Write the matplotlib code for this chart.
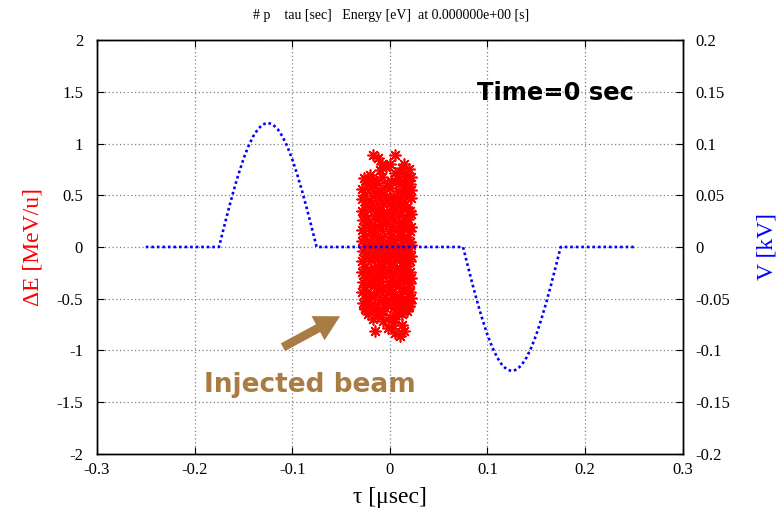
import numpy as np
import matplotlib
matplotlib.use("Agg")
import matplotlib.pyplot as plt

plt.rcParams['font.family'] = ['Liberation Serif', 'DejaVu Serif']

# ---- data ----
tau_v = np.linspace(-0.25, 0.25, 101)
bump = [0.0, 0.0188, 0.0371, 0.0545, 0.0705, 0.0849, 0.0971, 0.1069, 0.1141, 0.1185, 0.12,
        0.1185, 0.1141, 0.1069, 0.0971, 0.0849, 0.0705, 0.0545, 0.0371, 0.0188, 0.0]
volt = ([0.0] * 15 + bump + [0.0] * 29 + [-v for v in bump] + [0.0] * 15)

beam_points = [
    # top tail
    (-0.017, 0.89), (0.005, 0.89), (-0.012, 0.86), (-0.0085, 0.80), (0.000, 0.80), (0.015, 0.80),
    (0.020, 0.75), (0.005, 0.715), (-0.024, 0.635), (-0.017, 0.65), (0.017, 0.65), (0.022, 0.68),
    (-0.010, 0.74), (-0.020, 0.70), (0.010, 0.72), (-0.004, 0.77), (0.012, 0.76),
    # core
    (-0.026, 0.67), (-0.017, 0.65), (-0.008, 0.68), (0.001, 0.64), (0.009, 0.66), (0.018, 0.69),
    (-0.023, 0.61), (-0.013, 0.62), (-0.003, 0.60), (0.006, 0.63), (0.014, 0.59), (0.021, 0.61),
    (-0.028, 0.56), (-0.019, 0.57), (-0.010, 0.55), (0.000, 0.57), (0.008, 0.54), (0.016, 0.56), (0.022, 0.55),
    (-0.025, 0.50), (-0.015, 0.52), (-0.006, 0.51), (0.003, 0.49), (0.012, 0.52), (0.020, 0.50),
    (-0.028, 0.46), (-0.020, 0.45), (-0.011, 0.47), (-0.002, 0.45), (0.007, 0.46), (0.015, 0.44), (0.022, 0.47),
    (-0.024, 0.41), (-0.016, 0.40), (-0.007, 0.42), (0.002, 0.40), (0.010, 0.41), (0.018, 0.39),
    (-0.028, 0.35), (-0.019, 0.37), (-0.012, 0.36), (-0.003, 0.34), (0.005, 0.36), (0.013, 0.37), (0.021, 0.35),
    (-0.025, 0.31), (-0.016, 0.30), (-0.008, 0.32), (0.001, 0.30), (0.009, 0.31), (0.017, 0.29), (0.022, 0.32),
    (-0.027, 0.26), (-0.021, 0.25), (-0.012, 0.27), (-0.004, 0.25), (0.004, 0.26), (0.012, 0.24), (0.019, 0.27),
    (-0.024, 0.21), (-0.015, 0.20), (-0.007, 0.22), (0.002, 0.20), (0.010, 0.21), (0.017, 0.22), (0.022, 0.19),
    (-0.028, 0.16), (-0.019, 0.15), (-0.010, 0.17), (-0.001, 0.15), (0.007, 0.16), (0.015, 0.17), (0.021, 0.15),
    (-0.025, 0.11), (-0.016, 0.12), (-0.008, 0.10), (0.001, 0.11), (0.010, 0.12), (0.018, 0.10),
    (-0.028, 0.06), (-0.020, 0.05), (-0.012, 0.07), (-0.003, 0.05), (0.005, 0.06), (0.013, 0.07), (0.021, 0.05),
    (-0.024, 0.01), (-0.016, 0.02), (-0.007, 0.00), (0.002, 0.02), (0.010, 0.01), (0.017, 0.00), (0.022, 0.02),
    (-0.027, -0.04), (-0.019, -0.03), (-0.011, -0.05), (-0.003, -0.04), (0.005, -0.03), (0.013, -0.05), (0.020, -0.04),
    (-0.024, -0.09), (-0.015, -0.08), (-0.007, -0.10), (0.001, -0.09), (0.009, -0.08), (0.017, -0.10), (0.022, -0.09),
    (-0.028, -0.14), (-0.019, -0.13), (-0.011, -0.15), (-0.002, -0.14), (0.006, -0.13), (0.014, -0.15), (0.021, -0.14),
    (-0.025, -0.19), (-0.016, -0.20), (-0.008, -0.18), (0.001, -0.19), (0.010, -0.20), (0.018, -0.18),
    (-0.028, -0.24), (-0.020, -0.23), (-0.012, -0.25), (-0.003, -0.24), (0.005, -0.23), (0.013, -0.25), (0.021, -0.24),
    (-0.024, -0.29), (-0.016, -0.30), (-0.007, -0.28), (0.002, -0.29), (0.010, -0.30), (0.017, -0.28), (0.022, -0.30),
    (-0.027, -0.34), (-0.019, -0.35), (-0.010, -0.33), (-0.001, -0.34), (0.007, -0.35), (0.015, -0.33), (0.021, -0.35),
    (-0.025, -0.39), (-0.016, -0.38), (-0.008, -0.40), (0.001, -0.39), (0.009, -0.38), (0.018, -0.40),
    (-0.028, -0.44), (-0.020, -0.45), (-0.012, -0.43), (-0.003, -0.44), (0.005, -0.45), (0.013, -0.43), (0.021, -0.44),
    (-0.024, -0.49), (-0.016, -0.48), (-0.007, -0.50), (0.002, -0.49), (0.010, -0.48), (0.017, -0.50), (0.022, -0.49),
    (-0.027, -0.54), (-0.019, -0.55), (-0.011, -0.53), (-0.002, -0.54), (0.006, -0.55), (0.014, -0.53), (0.021, -0.54),
    (-0.025, -0.59), (-0.015, -0.60), (-0.006, -0.58), (0.003, -0.59), (0.011, -0.60), (0.019, -0.58),
    # bottom tail
    (-0.0256, -0.60), (-0.017, -0.70), (-0.0068, -0.715), (-0.0154, -0.81), (0.0034, -0.75), (0.012, -0.65),
    (0.012, -0.75), (0.005, -0.83), (0.015, -0.81), (0.010, -0.86), (0.020, -0.57), (-0.022, -0.54),
    (-0.022, -0.65), (-0.012, -0.66), (0.000, -0.68), (0.007, -0.64), (0.018, -0.62), (-0.008, -0.62),
    (0.004, -0.70), (-0.002, -0.78),
]
beam_tau = [p[0] for p in beam_points]
beam_dE = [p[1] for p in beam_points]

xticks = [-0.3, -0.2, -0.1, 0, 0.1, 0.2, 0.3]
yticks = [-2, -1.5, -1, -0.5, 0, 0.5, 1, 1.5, 2]
y2ticks = [-0.2, -0.15, -0.1, -0.05, 0, 0.05, 0.1, 0.15, 0.2]

brown = '#a97c44'

fig = plt.figure(figsize=(7.82, 5.14), dpi=100)
ax = fig.add_axes([0.124, 0.117, 0.749, 0.805])
ax2 = ax.twinx()

ax.scatter(beam_tau, beam_dE, marker=(8, 2, 0), s=62, color='red', linewidths=1.2, zorder=3)
ax2.plot(tau_v, volt, color='blue', lw=1.9, linestyle=(0, (1, 1.1)), dash_capstyle='butt')

ax.set_xlim(-0.3, 0.3)
ax.set_ylim(-2, 2)
ax2.set_ylim(-0.2, 0.2)
ax.set_xticks(xticks)
ax.set_xticklabels(['-0.3', '-0.2', '-0.1', '0', '0.1', '0.2', '0.3'])
ax.set_yticks(yticks)
ax.set_yticklabels(['-2', '-1.5', '-1', '-0.5', '0', '0.5', '1', '1.5', '2'])
ax2.set_yticks(y2ticks)
ax2.set_yticklabels(['-0.2', '-0.15', '-0.1', '-0.05', '0', '0.05', '0.1', '0.15', '0.2'])

ax.grid(True, color='#808080', linestyle=(0, (1, 2)), linewidth=0.9)
ax.tick_params(axis='x', direction='in', top=True, length=5, labelsize=12, pad=6)
ax.tick_params(axis='y', direction='in', length=5, labelsize=12, pad=10)
ax2.tick_params(axis='y', direction='in', length=5, labelsize=12, pad=9)
for a in (ax, ax2):
    for s in a.spines.values():
        s.set_linewidth(1.0)

ax.set_xlabel('τ [μsec]', fontsize=17, labelpad=6)
ax.set_ylabel('ΔE [MeV/u]', fontsize=17, color='red', labelpad=9)
ax2.set_ylabel('V [kV]', fontsize=17, color='blue', labelpad=19, rotation=90)

fig.text(0.5, 0.970, '# p    tau [sec]   Energy [eV]  at 0.000000e+00 [s]',
         ha='center', va='center', fontsize=10)

ax.text(0.170, 1.49, 'Time=0 sec', fontsize=17.5, fontweight='bold',
        family='DejaVu Sans', ha='center', va='center', color='black', zorder=5)
ax.text(-0.082, -1.33, 'Injected beam', fontsize=19, fontweight='bold',
        family='DejaVu Sans', ha='center', va='center', color=brown, zorder=5)
ax.annotate('', xy=(-0.051, -0.67), xytext=(-0.1095, -0.969),
            arrowprops=dict(arrowstyle='simple,head_length=1.0,head_width=1.1,tail_width=0.35',
                            lw=0, color=brown, mutation_scale=18, shrinkA=0, shrinkB=0))

fig.savefig('out.png', dpi=100)
